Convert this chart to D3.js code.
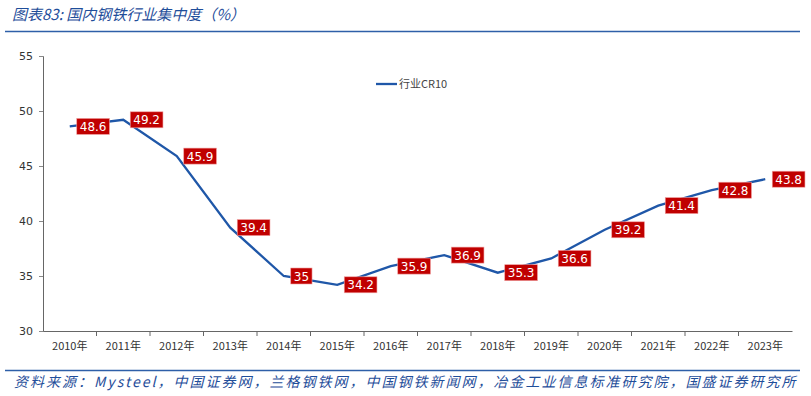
<!DOCTYPE html>
<meta charset="utf-8">
<html>
<body style="margin:0;background:#fff">
<div id="chart"></div>
<script src="https://cdn.jsdelivr.net/npm/d3@7"></script>
<script>
var years = ["2010年","2011年","2012年","2013年","2014年","2015年","2016年","2017年","2018年","2019年","2020年","2021年","2022年","2023年"];
var cr10 = [48.6, 49.2, 45.9, 39.4, 35, 34.2, 35.9, 36.9, 35.3, 36.6, 39.2, 41.4, 42.8, 43.8];
var yTicks = [30, 35, 40, 45, 50, 55];
var seriesName = "行业CR10";

var W = 811, H = 396;
var svg = d3.select("#chart").append("svg").attr("width", W).attr("height", H);
var cjk = "'Noto Sans CJK SC', 'DejaVu Sans', sans-serif";
var blue = "#1f4e9a";

// title + rule
svg.append("text").attr("x", 12).attr("y", 20)
  .style("font-family", cjk).style("font-size", "15px").style("font-style", "italic")
  .attr("fill", blue).text("图表83:  国内钢铁行业集中度（%）");
svg.append("line").attr("x1", 5).attr("x2", 800).attr("y1", 31.5).attr("y2", 31.5)
  .attr("stroke", "#2e5fa8").attr("stroke-width", 1.5);

// footer
svg.append("line").attr("x1", 5).attr("x2", 800).attr("y1", 370.5).attr("y2", 370.5)
  .attr("stroke", "#2e5fa8").attr("stroke-width", 1.5);
svg.append("text").attr("x", 14).attr("y", 387)
  .style("font-family", cjk).style("font-size", "14px").style("font-style", "italic")
  .style("letter-spacing", "2px")
  .attr("fill", blue).text("资料来源：Mysteel，中国证券网，兰格钢铁网，中国钢铁新闻网，冶金工业信息标准研究院，国盛证券研究所");

var x = d3.scaleBand().domain(years).range([43, 792]);
var y = d3.scaleLinear().domain([30, 55]).range([331, 56]);

// y axis
var ya = svg.append("g").attr("transform", "translate(43,0)")
  .call(d3.axisLeft(y).tickValues(yTicks).tickSize(4).tickPadding(6));
ya.selectAll("text").style("font-family", "'DejaVu Sans', sans-serif").style("font-size", "11px").attr("fill", "#333");

// x axis
var xa = svg.append("g").attr("transform", "translate(0,331)")
  .call(d3.axisBottom(x).tickSize(0).tickPadding(11).tickSizeOuter(0));
xa.selectAll("text").style("font-family", cjk).style("font-size", "11px").attr("fill", "#333");
xa.selectAll(".bnd").data(years.slice(1)).enter().append("line")
  .attr("x1", function (d) { return x(d); }).attr("x2", function (d) { return x(d); })
  .attr("y1", 0).attr("y2", 5).attr("stroke", "#666");
svg.selectAll(".domain").attr("stroke", "#666");
svg.selectAll(".tick line").attr("stroke", "#888");

// line
var line = d3.line()
  .x(function (d, i) { return x(years[i]) + x.bandwidth() / 2; })
  .y(function (d) { return y(d); });
svg.append("path").datum(cr10).attr("d", line)
  .attr("fill", "none").attr("stroke", "#1f57a8").attr("stroke-width", 2.3);

// labels
var lab = svg.selectAll(".lab").data(cr10).enter().append("g")
  .attr("transform", function (d, i) {
    return "translate(" + (x(years[i]) + x.bandwidth() / 2 + 7) + "," + y(d) + ")";
  });
lab.each(function (d) {
  var g = d3.select(this);
  var t = g.append("text").attr("x", 3).attr("y", 4.5)
    .style("font-family", "'DejaVu Sans', sans-serif").style("font-size", "12px")
    .attr("fill", "#fff").text(d);
  var w = t.node().getComputedTextLength();
  g.insert("rect", "text").attr("x", 0).attr("y", -8).attr("width", w + 6).attr("height", 16)
    .attr("fill", "#c00000").attr("stroke", "#f0a0a0").attr("stroke-width", 0.6);
});

// legend
svg.append("line").attr("x1", 376).attr("x2", 397).attr("y1", 84).attr("y2", 84)
  .attr("stroke", "#1f57a8").attr("stroke-width", 2.3);
svg.append("text").attr("x", 399).attr("y", 88)
  .style("font-family", cjk).style("font-size", "11px").attr("fill", "#444").text(seriesName);
</script>
</body>
</html>
